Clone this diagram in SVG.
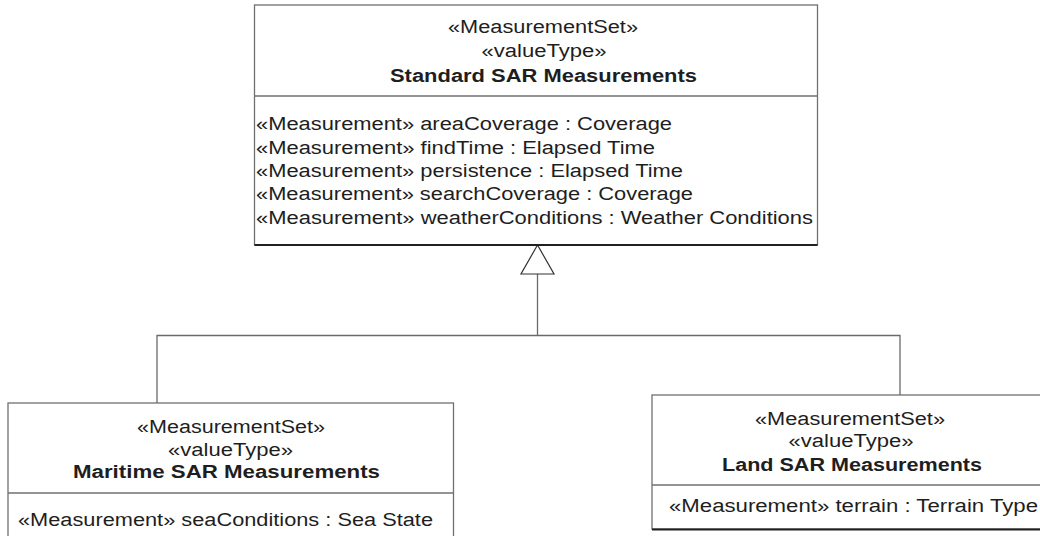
<svg xmlns="http://www.w3.org/2000/svg" width="1040" height="536" viewBox="0 0 1040 536">
<style>
.box{fill:#fff;stroke:#707070;stroke-width:1.3}
.sep{stroke:#707070;stroke-width:1.3}
.shadow{stroke:#202020;stroke-width:2}
text{font-family:"Liberation Sans",Arial,sans-serif;font-size:18px;fill:#1e1e1e}
.c{text-anchor:middle}
.b{font-weight:bold}
.conn{fill:none;stroke:#6a6a6a;stroke-width:1.3}
.tri{fill:#fff;stroke:#333;stroke-width:1.2;stroke-linejoin:miter}
</style>
<rect width="1040" height="536" fill="#fff"/>
<g id="connectors">
<path class="conn" d="M537.5,274 V335.5"/>
<path class="conn" d="M157,403 V335.5 H900 V395"/>
<polygon class="tri" points="537.5,245 521,274 554,274"/>
</g>
<g id="standard-sar">
<rect class="box" x="254.5" y="5" width="563" height="240"/>
<line class="sep" x1="254.5" y1="96" x2="817.5" y2="96"/>
<line class="shadow" x1="254.5" y1="245" x2="817.5" y2="245"/>
<text class="c" x="543" y="33" textLength="190" lengthAdjust="spacingAndGlyphs">«MeasurementSet»</text>
<text class="c" x="544" y="57" textLength="125" lengthAdjust="spacingAndGlyphs">«valueType»</text>
<text class="c b" x="543.5" y="81.5" textLength="307" lengthAdjust="spacingAndGlyphs">Standard SAR Measurements</text>
<text x="256" y="130" textLength="416" lengthAdjust="spacingAndGlyphs">«Measurement» areaCoverage : Coverage</text>
<text x="256" y="153.5" textLength="399" lengthAdjust="spacingAndGlyphs">«Measurement» findTime : Elapsed Time</text>
<text x="256" y="177" textLength="427" lengthAdjust="spacingAndGlyphs">«Measurement» persistence : Elapsed Time</text>
<text x="256" y="200" textLength="437" lengthAdjust="spacingAndGlyphs">«Measurement» searchCoverage : Coverage</text>
<text x="256" y="223.5" textLength="557" lengthAdjust="spacingAndGlyphs">«Measurement» weatherConditions : Weather Conditions</text>
</g>
<g id="maritime-sar">
<rect class="box" x="8" y="403" width="445.5" height="150"/>
<line class="sep" x1="8" y1="493" x2="453.5" y2="493"/>
<text class="c" x="231" y="433" textLength="188" lengthAdjust="spacingAndGlyphs">«MeasurementSet»</text>
<text class="c" x="230.5" y="456" textLength="125" lengthAdjust="spacingAndGlyphs">«valueType»</text>
<text class="c b" x="226.5" y="478" textLength="307" lengthAdjust="spacingAndGlyphs">Maritime SAR Measurements</text>
<text x="18" y="526" textLength="415" lengthAdjust="spacingAndGlyphs">«Measurement» seaConditions : Sea State</text>
</g>
<g id="land-sar">
<rect class="box" x="652" y="395" width="400" height="134"/>
<line class="sep" x1="652" y1="485" x2="1052" y2="485"/>
<line class="shadow" x1="652" y1="529.5" x2="1052" y2="529.5"/>
<text class="c" x="850" y="425" textLength="190" lengthAdjust="spacingAndGlyphs">«MeasurementSet»</text>
<text class="c" x="851" y="447" textLength="125" lengthAdjust="spacingAndGlyphs">«valueType»</text>
<text class="c b" x="852" y="471" textLength="260" lengthAdjust="spacingAndGlyphs">Land SAR Measurements</text>
<text x="669" y="512" textLength="369" lengthAdjust="spacingAndGlyphs">«Measurement» terrain : Terrain Type</text>
</g>
</svg>
